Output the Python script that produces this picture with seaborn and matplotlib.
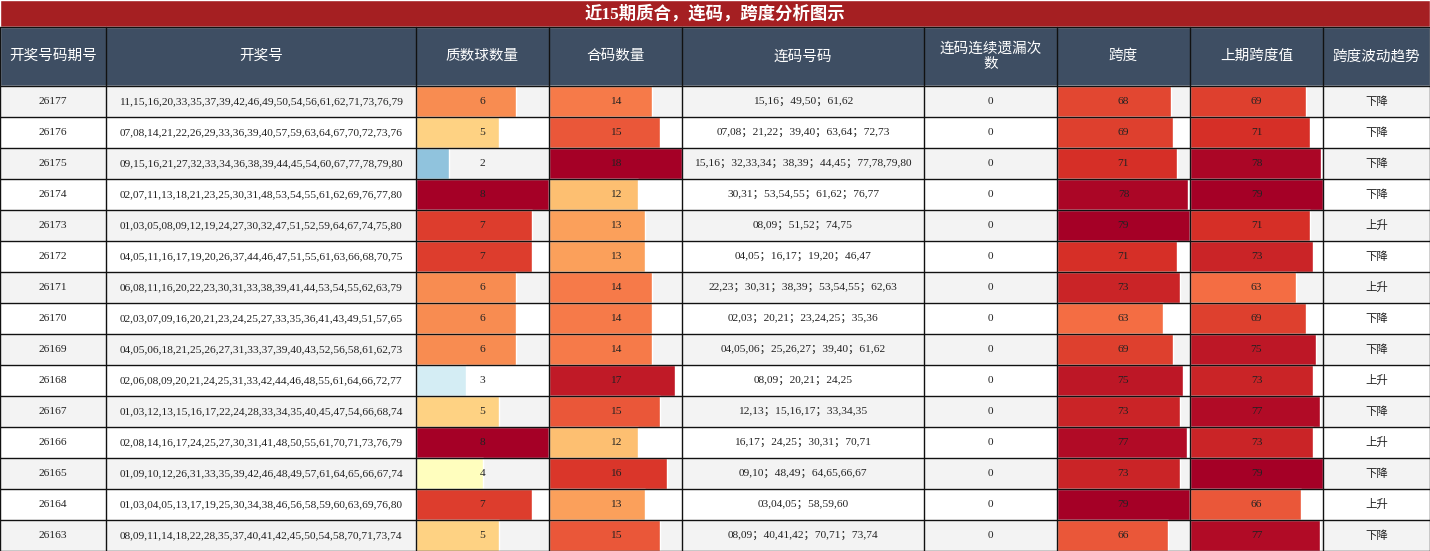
import matplotlib
matplotlib.use("Agg")
import matplotlib.pyplot as plt
import seaborn as sns
import numpy as np

sns.set_theme(style="white")
plt.rcParams['font.family'] = ['Liberation Serif', 'Noto Sans CJK SC', 'DejaVu Sans']

title = "近15期质合，连码，跨度分析图示"
headers = ["开奖号码期号", "开奖号", "质数球数量", "合码数量", "连码号码", "连码连续遗漏次数", "跨度", "上期跨度值", "跨度波动趋势"]
issues = ["26177","26176","26175","26174","26173","26172","26171","26170","26169","26168","26167","26166","26165","26164","26163"]
draws = [
"11,15,16,20,33,35,37,39,42,46,49,50,54,56,61,62,71,73,76,79",
"07,08,14,21,22,26,29,33,36,39,40,57,59,63,64,67,70,72,73,76",
"09,15,16,21,27,32,33,34,36,38,39,44,45,54,60,67,77,78,79,80",
"02,07,11,13,18,21,23,25,30,31,48,53,54,55,61,62,69,76,77,80",
"01,03,05,08,09,12,19,24,27,30,32,47,51,52,59,64,67,74,75,80",
"04,05,11,16,17,19,20,26,37,44,46,47,51,55,61,63,66,68,70,75",
"06,08,11,16,20,22,23,30,31,33,38,39,41,44,53,54,55,62,63,79",
"02,03,07,09,16,20,21,23,24,25,27,33,35,36,41,43,49,51,57,65",
"04,05,06,18,21,25,26,27,31,33,37,39,40,43,52,56,58,61,62,73",
"02,06,08,09,20,21,24,25,31,33,42,44,46,48,55,61,64,66,72,77",
"01,03,12,13,15,16,17,22,24,28,33,34,35,40,45,47,54,66,68,74",
"02,08,14,16,17,24,25,27,30,31,41,48,50,55,61,70,71,73,76,79",
"01,09,10,12,26,31,33,35,39,42,46,48,49,57,61,64,65,66,67,74",
"01,03,04,05,13,17,19,25,30,34,38,46,56,58,59,60,63,69,76,80",
"08,09,11,14,18,22,28,35,37,40,41,42,45,50,54,58,70,71,73,74",
]
primes = [6,5,2,8,7,7,6,6,6,3,5,8,4,7,5]
composites = [14,15,18,12,13,13,14,14,14,17,15,12,16,13,15]
consec = [
"15,16；49,50；61,62",
"07,08；21,22；39,40；63,64；72,73",
"15,16；32,33,34；38,39；44,45；77,78,79,80",
"30,31；53,54,55；61,62；76,77",
"08,09；51,52；74,75",
"04,05；16,17；19,20；46,47",
"22,23；30,31；38,39；53,54,55；62,63",
"02,03；20,21；23,24,25；35,36",
"04,05,06；25,26,27；39,40；61,62",
"08,09；20,21；24,25",
"12,13；15,16,17；33,34,35",
"16,17；24,25；30,31；70,71",
"09,10；48,49；64,65,66,67",
"03,04,05；58,59,60",
"08,09；40,41,42；70,71；73,74",
]
miss = [0]*15
spans = [68,69,71,78,79,71,73,63,69,75,73,77,73,79,66]
prev_spans = [69,71,78,79,71,73,63,69,75,73,77,73,79,66,77]
trend = ["下降","下降","下降","下降","上升","下降","上升","下降","下降","上升","下降","上升","下降","上升","下降"]

W, H = 1430, 551
edges = [0,106,416,549,682,924,1057,1190,1323,1430]
title_h, head_b = 27, 86
n = len(issues)
row_h = (H - head_b) / n

fig = plt.figure(figsize=(14.3, 5.51), dpi=100)
ax = fig.add_axes([0, 0, 1, 1])
ax.set_xlim(0, W); ax.set_ylim(H, 0); ax.axis("off")

cmap = plt.get_cmap("RdYlBu_r")
ax.barh([title_h/2], [W], left=0, height=title_h, color="#a51f22")
ax.text(W/2, title_h/2, title, color="white", ha="center", va="center", fontsize=12.5, fontweight="bold")
ax.barh([(title_h+head_b)/2], [W], left=0, height=head_b-title_h, color="#3e4e63")
for i, h in enumerate(headers):
    cx = (edges[i]+edges[i+1])/2
    txt = "连码连续遗漏次\n数" if h == "连码连续遗漏次数" else h
    ax.text(cx, (title_h+head_b)/2, txt, color="white", ha="center", va="center", fontsize=10.5, linespacing=1.3)

ys = head_b + row_h*(np.arange(n)+0.5)
ax.barh(ys, [W]*n, left=0, height=row_h, color=["#f3f3f3" if r % 2 == 0 else "white" for r in range(n)])

def bar_col(ci, vals):
    vmax = max(vals)
    w = edges[ci+1]-edges[ci]
    ax.barh(ys, [v/vmax*w for v in vals], left=edges[ci], height=row_h,
            color=[cmap(v/vmax) for v in vals])

bar_col(2, primes); bar_col(3, composites); bar_col(6, spans); bar_col(7, prev_spans)

cols = [issues, draws, primes, composites, consec, miss, spans, prev_spans, trend]
for ci, col in enumerate(cols):
    cx = (edges[ci]+edges[ci+1])/2
    for r, v in enumerate(col):
        ax.text(cx, ys[r], str(v), ha="center", va="center", fontsize=8.2, color="#222222")

for x in edges:
    ax.plot([x, x], [title_h, H], color="#111111", lw=1)
for r in range(n+1):
    y = head_b + r*row_h
    ax.plot([0, W], [y, y], color="#111111", lw=1)
ax.plot([0, W], [title_h, title_h], color="#111111", lw=1)

fig.savefig("out.png", dpi=100)
